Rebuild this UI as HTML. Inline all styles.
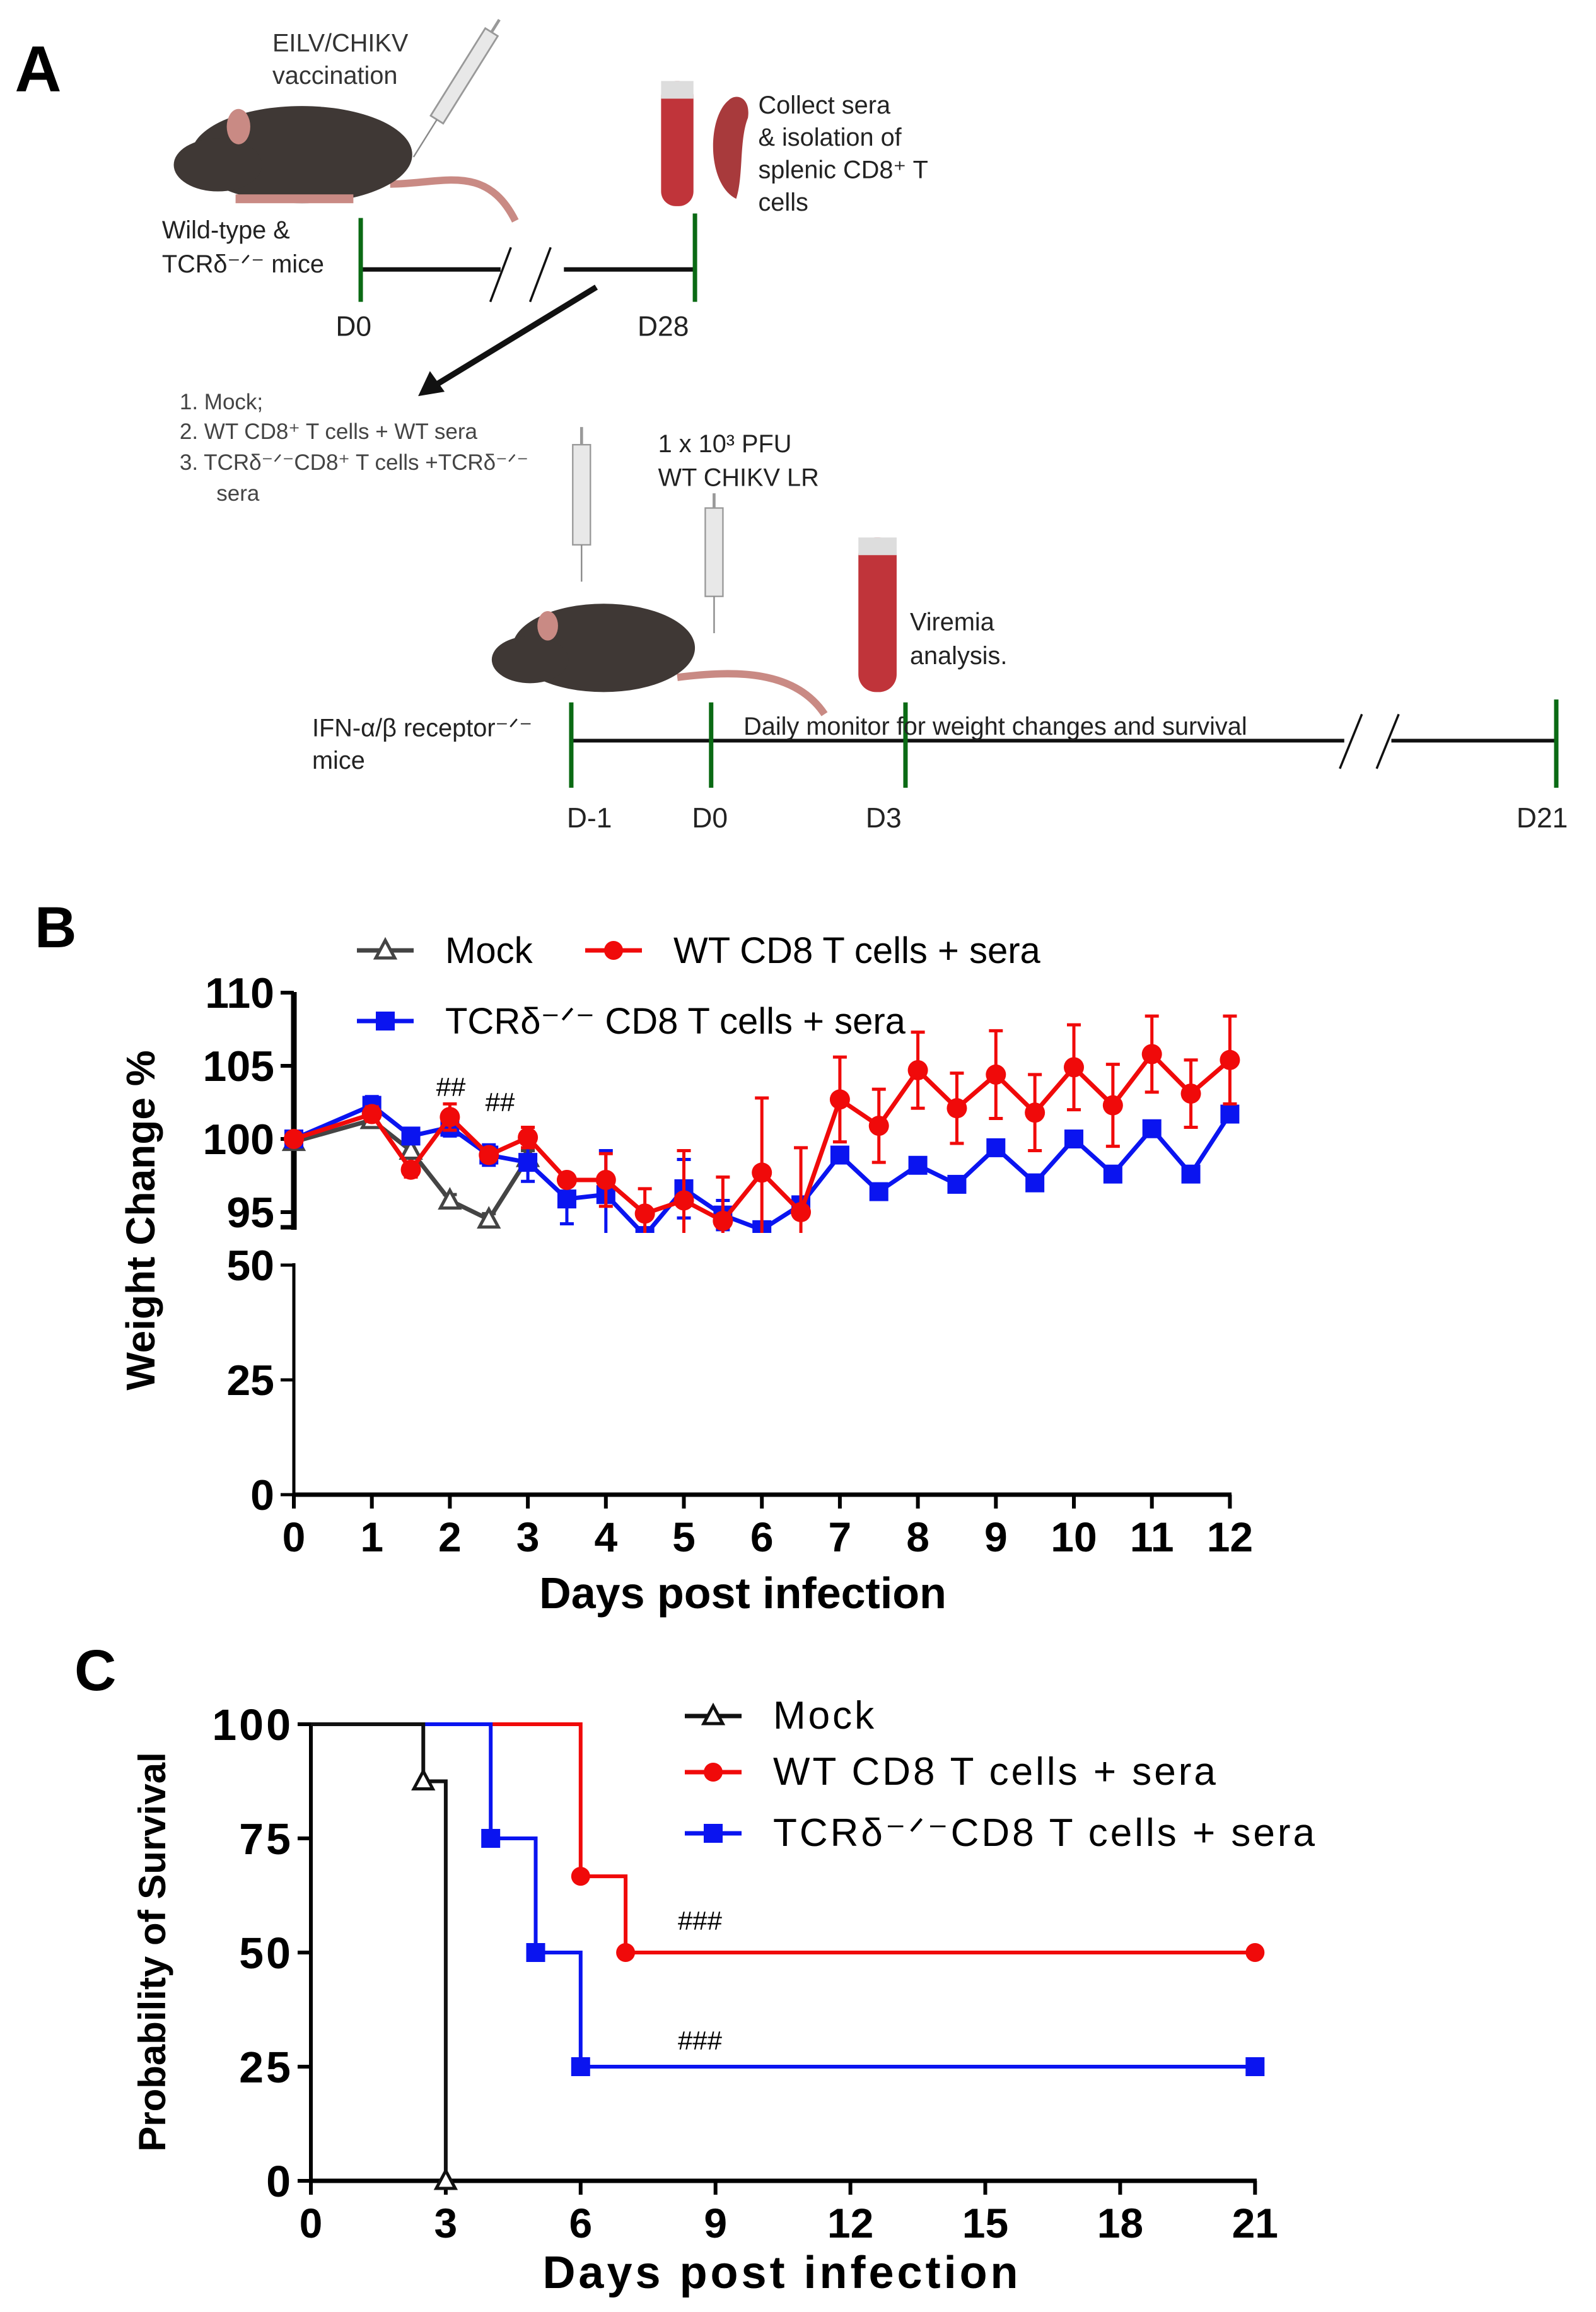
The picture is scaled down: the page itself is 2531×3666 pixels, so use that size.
<!DOCTYPE html>
<html><head><meta charset="utf-8"><style>
html,body{margin:0;padding:0;background:#fff}
svg{display:block}
text{font-family:"Liberation Sans",Arial,sans-serif}
</style></head><body>
<svg id="fig" xmlns="http://www.w3.org/2000/svg" width="2531" height="3666" viewBox="0 0 2531 3666">
<rect width="2531" height="3666" fill="#fff"/>
<g id="panelA" transform="scale(2.3349)">
  <text x="10" y="62" font-size="44" font-weight="bold">A</text>
  <g>
    <path d="M350,150 C330,110 300,125 265,125" stroke="#c98a84" stroke-width="5" fill="none"/>
    <ellipse cx="205" cy="105" rx="75" ry="33" fill="#3f3835"/>
    <ellipse cx="148" cy="112" rx="30" ry="18" fill="#3f3835"/>
    <ellipse cx="162" cy="86" rx="8" ry="12" fill="#c98a84"/>
    <rect x="160" y="132" width="80" height="6" fill="#c98a84"/>
  </g>
  <g transform="rotate(32 310 60)">
    <rect x="305" y="15" width="10" height="70" fill="#e8e8e8" stroke="#999" stroke-width="1.2"/>
    <line x1="310" y1="85" x2="310" y2="115" stroke="#888" stroke-width="1"/>
    <line x1="310" y1="15" x2="310" y2="5" stroke="#999" stroke-width="2"/>
  </g>
  <text x="185" y="35" font-size="17" fill="#333">EILV/CHIKV</text>
  <text x="185" y="57" font-size="17" fill="#333">vaccination</text>
  <rect x="449" y="55" width="22" height="85" rx="10" fill="#c0343a"/>
  <rect x="449" y="55" width="22" height="12" fill="#ddd"/>
  <path d="M495,68 C480,80 480,125 500,135 C505,120 502,95 508,80 C510,66 500,63 495,68Z" fill="#a83a3c"/>
  <text x="515" y="77" font-size="17" fill="#222">Collect sera</text>
  <text x="515" y="99" font-size="17" fill="#222">&amp; isolation of</text>
  <text x="515" y="121" font-size="17" fill="#222">splenic CD8⁺ T</text>
  <text x="515" y="143" font-size="17" fill="#222">cells</text>
  <text x="110" y="162" font-size="17" fill="#222">Wild-type &amp;</text>
  <text x="110" y="185" font-size="17" fill="#222">TCRδ⁻ᐟ⁻ mice</text>
  <g>
    <line x1="245" y1="183" x2="340" y2="183" stroke="#111" stroke-width="3"/>
    <line x1="383" y1="183" x2="472" y2="183" stroke="#111" stroke-width="3"/>
    <line x1="333" y1="205" x2="347" y2="168" stroke="#111" stroke-width="1.5"/>
    <line x1="360" y1="205" x2="374" y2="168" stroke="#111" stroke-width="1.5"/>
    <line x1="245" y1="148" x2="245" y2="205" stroke="#0a6a14" stroke-width="3"/>
    <line x1="472" y1="145" x2="472" y2="205" stroke="#0a6a14" stroke-width="3"/>
  </g>
  <text x="228" y="228" font-size="19" fill="#222">D0</text>
  <text x="433" y="228" font-size="19" fill="#222">D28</text>
  <line x1="405" y1="195" x2="295" y2="262" stroke="#111" stroke-width="4"/>
  <polygon points="284,269 292,252 302,266" fill="#111"/>
  <g font-size="15" fill="#444">
    <text x="122" y="278">1.  Mock;</text>
    <text x="122" y="298">2.  WT CD8⁺ T cells + WT sera</text>
    <text x="122" y="319">3.  TCRδ⁻ᐟ⁻CD8⁺ T cells +TCRδ⁻ᐟ⁻</text>
    <text x="147" y="340">sera</text>
  </g>
  <g>
    <rect x="389" y="302" width="12" height="68" fill="#e8e8e8" stroke="#999"/>
    <line x1="395" y1="290" x2="395" y2="302" stroke="#999" stroke-width="2"/>
    <line x1="395" y1="370" x2="395" y2="395" stroke="#888"/>
  </g>
  <g>
    <rect x="479" y="345" width="12" height="60" fill="#e8e8e8" stroke="#999"/>
    <line x1="485" y1="335" x2="485" y2="345" stroke="#999" stroke-width="2"/>
    <line x1="485" y1="405" x2="485" y2="430" stroke="#888"/>
  </g>
  <text x="447" y="307" font-size="17" fill="#222">1 x 10³ PFU</text>
  <text x="447" y="330" font-size="17" fill="#222">WT CHIKV LR</text>
  <rect x="583" y="365" width="26" height="105" rx="12" fill="#c0343a"/>
  <rect x="583" y="365" width="26" height="12" fill="#ddd"/>
  <text x="618" y="428" font-size="17" fill="#222">Viremia</text>
  <text x="618" y="451" font-size="17" fill="#222">analysis.</text>
  <g>
    <path d="M460,460 C500,455 540,455 560,485" stroke="#c98a84" stroke-width="5" fill="none"/>
    <ellipse cx="410" cy="440" rx="62" ry="30" fill="#3f3835"/>
    <ellipse cx="360" cy="448" rx="26" ry="16" fill="#3f3835"/>
    <ellipse cx="372" cy="425" rx="7" ry="10" fill="#c98a84"/>
  </g>
  <text x="212" y="500" font-size="17" fill="#222">IFN-α/β receptor⁻ᐟ⁻</text>
  <text x="212" y="522" font-size="17" fill="#222">mice</text>
  <g>
    <line x1="388" y1="503" x2="913" y2="503" stroke="#111" stroke-width="2.5"/>
    <line x1="945" y1="503" x2="1057" y2="503" stroke="#111" stroke-width="2.5"/>
    <line x1="910" y1="522" x2="925" y2="485" stroke="#111" stroke-width="1.5"/>
    <line x1="935" y1="522" x2="950" y2="485" stroke="#111" stroke-width="1.5"/>
    <line x1="388" y1="477" x2="388" y2="535" stroke="#0a6a14" stroke-width="3"/>
    <line x1="483" y1="477" x2="483" y2="535" stroke="#0a6a14" stroke-width="3"/>
    <line x1="615" y1="477" x2="615" y2="535" stroke="#0a6a14" stroke-width="3"/>
    <line x1="1057" y1="475" x2="1057" y2="535" stroke="#0a6a14" stroke-width="3"/>
  </g>
  <text x="505" y="499" font-size="17" fill="#222">Daily  monitor for  weight changes and survival</text>
  <text x="385" y="562" font-size="19" fill="#222">D-1</text>
  <text x="470" y="562" font-size="19" fill="#222">D0</text>
  <text x="588" y="562" font-size="19" fill="#222">D3</text>
  <text x="1030" y="562" font-size="19" fill="#222">D21</text>
</g>
<g id="panelB"></g>
<g id="panelC"></g>
</svg>
<script>
// ---- Panel B data ----
const daysB = [0,1,1.5,2,2.5,3,3.5,4,4.5,5,5.5,6,6.5,7,7.5,8,8.5,9,9.5,10,10.5,11,11.5,12];
const wtMean = [100,101.7,97.9,101.5,98.9,100.1,97.2,97.2,94.9,95.8,94.4,97.7,95.0,102.7,100.9,104.7,102.1,104.4,101.8,104.9,102.3,105.8,103.1,105.4];
const wtErr  = [0.3,0.5,0.5,0.9,0.4,0.7,0.4,1.8,1.7,3.4,3.0,5.1,4.4,2.9,2.5,2.6,2.4,3.0,2.6,2.9,2.8,2.6,2.3,3.0];
const tcrMean = [100,102.3,100.2,100.8,98.9,98.4,95.9,96.2,93.4,96.6,94.8,93.8,95.5,98.9,96.4,98.2,96.9,99.4,97.0,100.0,97.6,100.7,97.6,101.7];
const tcrErr  = [0.3,0.6,0.4,0.6,0.7,1.3,1.7,3.0,0.3,2.0,1.0,0.3,0.3,0.3,0.3,0.3,0.3,0.3,0.3,0.3,0.3,0.3,0.3,0.3];
const mockDays = [0,1,1.5,2,2.5,3];
const mockMean = [99.8,101.3,99.2,95.8,94.5,98.7];
const mockErr  = [0.3,0.4,0.5,0.4,0.4,0.5];
const yTicksUpper = [95,100,105,110];
const yTicksLower = [0,25,50];
const xTicksB = [0,1,2,3,4,5,6,7,8,9,10,11,12];
// ---- Panel C data ----
const mockSurvT = [0,2.5,2.5,3,3];
const mockSurvP = [100,100,87.5,87.5,0];
const mockMarkT = [2.5,3];
const mockMarkP = [87.5,0];
const wtSurvT = [0,6,6,7,7,21];
const wtSurvP = [100,100,66.7,66.7,50,50];
const wtMarkT = [6,7,21];
const wtMarkP = [66.7,50,50];
const tcrSurvT = [0,4,4,5,5,6,6,21];
const tcrSurvP = [100,100,75,75,50,50,25,25];
const tcrMarkT = [4,5,6,21];
const tcrMarkP = [75,50,25,25];
const yTicksC = [0,25,50,75,100];
const xTicksC = [0,3,6,9,12,15,18,21];

const NS='http://www.w3.org/2000/svg';
function mk(parent,tag,attrs,txt){const e=document.createElementNS(NS,tag);for(const k in attrs)e.setAttribute(k,attrs[k]);if(txt!==undefined)e.textContent=txt;parent.appendChild(e);return e;}

// ---- Panel B ----
const B=document.getElementById('panelB');


const xB=d=>466+d*123.7;
const yU=v=>1806-(v-100)*23.2;
const yL=v=>2370-v*7.28;
const clip=mk(B,'clipPath',{id:'clipU'});mk(clip,'rect',{x:400,y:1500,width:1700,height:455});
let t=mk(B,'text',{x:55,y:1502,'font-size':92,'font-weight':'bold'},'B');


let ax=mk(B,'line',{x1:466,y1:1573,x2:466,y2:1950,stroke:'#000','stroke-width':9});


ax=mk(B,'line',{x1:466,y1:2003,x2:466,y2:2370,stroke:'#000','stroke-width':5});


ax=mk(B,'line',{x1:466,y1:2370,x2:1953,y2:2370,stroke:'#000','stroke-width':7});


mk(B,'line',{x1:445,y1:1946,x2:470,y2:1946,stroke:'#000','stroke-width':7});
yTicksUpper.forEach(v=>{mk(B,'line',{x1:445,y1:yU(v),x2:466,y2:yU(v),stroke:'#000','stroke-width':6});
 const l=mk(B,'text',{x:435,y:yU(v)+24,'font-size':68,'font-weight':'bold','text-anchor':'end'},String(v));
 
 });
yTicksLower.forEach(v=>{mk(B,'line',{x1:445,y1:yL(v),x2:466,y2:yL(v),stroke:'#000','stroke-width':5});
 const l=mk(B,'text',{x:435,y:yL(v)+24,'font-size':68,'font-weight':'bold','text-anchor':'end'},String(v));
 
 });
xTicksB.forEach(d=>{mk(B,'line',{x1:xB(d),y1:2370,x2:xB(d),y2:2392,stroke:'#000','stroke-width':6});
 const l=mk(B,'text',{x:xB(d),y:2460,'font-size':66,'font-weight':'bold','text-anchor':'middle'},String(d));
 
 });
t=mk(B,'text',{x:1178,y:2550,'font-size':70,'font-weight':'bold','text-anchor':'middle'},'Days post infection');


t=mk(B,'text',{x:0,y:0,'font-size':64,'font-weight':'bold','text-anchor':'middle',transform:'translate(245,1935) rotate(-90)'},'Weight Change %');


const plot=mk(B,'g',{'clip-path':'url(#clipU)'});
function series(days,mean,err,color,kind,name){
 const g=mk(plot,'g',{});
 
 
 days.forEach((d,i)=>{const x=xB(d),y1=yU(mean[i]+err[i]),y2=yU(mean[i]-err[i]);
  mk(g,'line',{x1:x,y1:y1,x2:x,y2:y2,stroke:color,'stroke-width':5});
  mk(g,'line',{x1:x-11,y1:y1,x2:x+11,y2:y1,stroke:color,'stroke-width':5});
  mk(g,'line',{x1:x-11,y1:y2,x2:x+11,y2:y2,stroke:color,'stroke-width':5});});
 mk(g,'polyline',{points:days.map((d,i)=>xB(d)+','+yU(mean[i])).join(' '),fill:'none',stroke:color,'stroke-width':7});
 days.forEach((d,i)=>{const x=xB(d),y=yU(mean[i]);let m;
  if(kind==='circle')m=mk(g,'circle',{cx:x,cy:y,r:16,fill:color});
  else if(kind==='square')m=mk(g,'rect',{x:x-15,y:y-15,width:30,height:30,fill:color});
  else m=mk(g,'polygon',{points:`${x},${y-16} ${x-15},${y+12} ${x+15},${y+12}`,fill:'#fff',stroke:color,'stroke-width':5});
  
  });
}
series(mockDays,mockMean,mockErr,'#444','tri','series-mock');
series(daysB,tcrMean,tcrErr,'#0a14f0','square','series-tcr');
series(daysB,wtMean,wtErr,'#f00a0a','circle','series-wt');
t=mk(B,'text',{x:715,y:1738,'font-size':42,'text-anchor':'middle'},'##');


t=mk(B,'text',{x:793,y:1762,'font-size':42,'text-anchor':'middle'},'##');


function legend(P,x,y,color,kind,label,fs,name){
 const g=mk(P,'g',{});
 
 
 mk(g,'line',{x1:x,y1:y,x2:x+90,y2:y,stroke:color,'stroke-width':7});
 const cx=x+45;
 if(kind==='circle')mk(g,'circle',{cx:cx,cy:y,r:15,fill:color});
 else if(kind==='square')mk(g,'rect',{x:cx-15,y:y-15,width:30,height:30,fill:color});
 else mk(g,'polygon',{points:`${cx},${y-16} ${cx-15},${y+12} ${cx+15},${y+12}`,fill:'#fff',stroke:color,'stroke-width':5});
 mk(g,'text',{x:x+140,y:y+20,'font-size':fs},label);
}
legend(B,566,1507,'#444','tri','Mock',58,'legend-mock');
legend(B,928,1507,'#f00a0a','circle','WT CD8 T cells + sera',58,'legend-wt');
legend(B,566,1619,'#0a14f0','square','TCRδ⁻ᐟ⁻ CD8 T cells + sera',58,'legend-tcr');

// ---- Panel C ----
const C=document.getElementById('panelC');


const xC=d=>493+d*71.3;
const yC=p=>3458-p*7.24;
t=mk(C,'text',{x:118,y:2680,'font-size':92,'font-weight':'bold'},'C');


ax=mk(C,'line',{x1:493,y1:2731,x2:493,y2:3458,stroke:'#000','stroke-width':6});


ax=mk(C,'line',{x1:493,y1:3458,x2:1993,y2:3458,stroke:'#000','stroke-width':7});


yTicksC.forEach(v=>{mk(C,'line',{x1:472,y1:yC(v),x2:493,y2:yC(v),stroke:'#000','stroke-width':6});
 const l=mk(C,'text',{x:465,y:yC(v)+25,'font-size':70,'font-weight':'bold','text-anchor':'end','letter-spacing':4},String(v));
 
 });
xTicksC.forEach(d=>{mk(C,'line',{x1:xC(d),y1:3458,x2:xC(d),y2:3480,stroke:'#000','stroke-width':6});
 const l=mk(C,'text',{x:xC(d),y:3548,'font-size':66,'font-weight':'bold','text-anchor':'middle'},String(d));
 
 });
t=mk(C,'text',{x:1240,y:3628,'font-size':72,'font-weight':'bold','text-anchor':'middle','letter-spacing':5},'Days post infection');


t=mk(C,'text',{x:0,y:0,'font-size':60,'font-weight':'bold','text-anchor':'middle',transform:'translate(262,3095) rotate(-90)'},'Probability of Survival');


function surv(T,P,MT,MP,color,kind,name){
 const g=mk(C,'g',{});
 
 
 mk(g,'polyline',{points:T.map((d,i)=>xC(d)+','+yC(P[i])).join(' '),fill:'none',stroke:color,'stroke-width':6});
 MT.forEach((d,i)=>{const x=xC(d),y=yC(MP[i]);let m;
  if(kind==='circle')m=mk(g,'circle',{cx:x,cy:y,r:15,fill:color});
  else if(kind==='square')m=mk(g,'rect',{x:x-15,y:y-15,width:30,height:30,fill:color});
  else m=mk(g,'polygon',{points:`${x},${y-16} ${x-15},${y+12} ${x+15},${y+12}`,fill:'#fff',stroke:color,'stroke-width':5});
  
  });
}
surv(wtSurvT,wtSurvP,wtMarkT,wtMarkP,'#f00a0a','circle','survival-wt');
surv(tcrSurvT,tcrSurvP,tcrMarkT,tcrMarkP,'#0a14f0','square','survival-tcr');
surv(mockSurvT,mockSurvP,mockMarkT,mockMarkP,'#111','tri','survival-mock');
t=mk(C,'text',{x:1110,y:3060,'font-size':42,'text-anchor':'middle'},'###');


t=mk(C,'text',{x:1110,y:3250,'font-size':42,'text-anchor':'middle'},'###');


legend(C,1086,2721,'#111','tri','Mock',62,'legend-mock');
legend(C,1086,2810,'#f00a0a','circle','WT CD8 T cells + sera',62,'legend-wt');
legend(C,1086,2907,'#0a14f0','square','TCRδ⁻ᐟ⁻CD8 T cells + sera',62,'legend-tcr');
document.querySelectorAll('#panelC g text').forEach(e=>{e.setAttribute('letter-spacing','4');});
</script>
</body></html>
